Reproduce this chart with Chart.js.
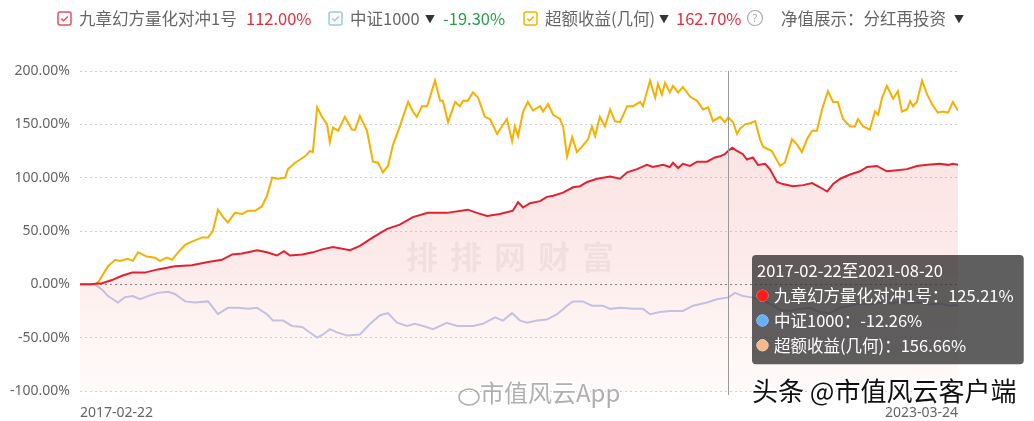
<!DOCTYPE html>
<html>
<head>
<meta charset="utf-8">
<script src="https://cdn.jsdelivr.net/npm/chart.js@4.4.1/dist/chart.umd.min.js"></script>
<style>
  html, body { margin: 0; padding: 0; background: #fff; }
  #wrap { position: relative; width: 1034px; height: 421px; }
  #chart { position: absolute; left: 0; top: 0; }
  #legend { position: absolute; left: 0; top: 0; width: 1034px; height: 36px;
    font-family: "Noto Sans CJK SC", sans-serif; font-size: 16.5px; color: #666; }
  #legend span { position: absolute; top: 7px; line-height: 22px; white-space: nowrap; }
  #legend svg { position: absolute; top: 11px; }
  .arrow { font-size: 10px; color: #333; }
</style>
</head>
<body>
<div id="wrap">
  <canvas id="chart" width="1034" height="421"></canvas>
  <div id="legend"></div>
</div>
<script>
// 名称与图例数值
const seriesNames = ["九章幻方量化对冲1号", "中证1000", "超额收益(几何)"];
const legendValues = ["112.00%", "-19.30%", "162.70%"];
const tickLabels = ["2017-02-22", "2023-03-24"];
const hoverTitle = "2017-02-22至2021-08-20";
const yTicks = [-100, -50, 0, 50, 100, 150, 200];

// 天数（自2017-02-22起），收益率 %
const fundDays = [0, 25, 56, 81, 106, 132, 164, 197, 240, 283, 324, 359, 385, 410, 448, 473, 498, 516, 531, 562, 589, 615, 640, 683, 708, 741, 777, 809, 842, 880, 928, 981, 1004, 1030, 1062, 1095, 1108, 1121, 1138, 1164, 1181, 1197, 1222, 1247, 1265, 1283, 1308, 1323, 1341, 1366, 1384, 1409, 1434, 1449, 1475, 1492, 1500, 1513, 1525, 1543, 1561, 1586, 1606, 1619, 1631, 1640, 1650, 1662, 1677, 1687, 1702, 1715, 1733, 1745, 1763, 1778, 1804, 1829, 1852, 1872, 1890, 1905, 1923, 1948, 1973, 1991, 2016, 2041, 2067, 2092, 2117, 2143, 2175, 2196, 2208, 2221];
const fundValues = [0, 0, 1, 4, 8, 11, 11, 14, 17, 18, 21, 23, 28, 29, 32, 30, 27, 31, 27, 28, 30, 33, 35, 32, 36, 44, 52, 56, 63, 67, 67, 70, 67, 64, 66, 69, 77, 72, 76, 78, 82, 83, 86, 91, 92, 96, 99, 100, 101, 99, 105, 108, 112, 110, 112, 110, 114, 109, 113, 111, 115, 115, 119, 120, 122, 125.21, 128, 125, 122, 117, 119, 112, 113, 108, 96, 94, 92, 93, 95, 91, 87, 94, 99, 103, 106, 110, 111, 106, 107, 108, 111, 112, 113, 112, 113, 112.00];

const indexDays = [0, 38, 56, 71, 96, 114, 134, 152, 172, 197, 223, 240, 266, 291, 324, 349, 374, 400, 425, 448, 473, 488, 514, 536, 562, 577, 600, 615, 632, 650, 675, 708, 734, 759, 779, 802, 827, 847, 868, 893, 928, 954, 994, 1019, 1050, 1070, 1093, 1113, 1131, 1156, 1181, 1207, 1232, 1247, 1272, 1295, 1323, 1341, 1366, 1399, 1424, 1442, 1467, 1492, 1525, 1551, 1586, 1611, 1640, 1657, 1677, 1695, 1720, 1745, 1771, 1796, 1821, 1847, 1872, 1897, 1923, 1948, 1973, 1998, 2024, 2049, 2074, 2100, 2125, 2150, 2175, 2201, 2221];
const indexValues = [0, 0, -5, -11, -17, -12, -11, -14, -11, -8, -7, -9, -16, -17, -16, -28, -22, -22, -23, -22, -28, -34, -34, -39, -40, -44, -50, -47, -42, -45, -48, -47, -37, -29, -27, -36, -39, -37, -39, -42, -36, -39, -39, -37, -31, -34, -27, -34, -36, -34, -33, -28, -20, -16, -16, -20, -20, -23, -22, -23, -23, -28, -26, -25, -25, -20, -17, -14, -12.26, -8, -11, -12, -14, -18, -24, -25, -23, -22, -26, -27, -22, -20, -18, -19, -17, -18, -16, -18, -17, -19, -18, -20, -19.30];

const excessDays = [0, 25, 38, 46, 71, 89, 101, 121, 134, 147, 169, 190, 202, 220, 233, 248, 266, 283, 309, 324, 336, 349, 362, 374, 392, 410, 425, 443, 460, 473, 486, 501, 519, 526, 544, 557, 569, 582, 589, 600, 612, 625, 632, 640, 653, 670, 688, 696, 708, 726, 741, 754, 766, 779, 792, 809, 817, 830, 842, 852, 865, 878, 885, 898, 911, 918, 931, 949, 961, 969, 981, 994, 1007, 1024, 1037, 1055, 1067, 1080, 1093, 1100, 1108, 1121, 1133, 1146, 1164, 1171, 1184, 1197, 1214, 1222, 1232, 1245, 1257, 1272, 1285, 1295, 1303, 1315, 1328, 1341, 1353, 1366, 1384, 1399, 1417, 1424, 1442, 1455, 1462, 1472, 1480, 1492, 1500, 1513, 1525, 1543, 1561, 1576, 1589, 1601, 1619, 1631, 1640, 1652, 1662, 1670, 1682, 1695, 1708, 1720, 1728, 1750, 1771, 1783, 1801, 1814, 1826, 1839, 1852, 1864, 1877, 1892, 1905, 1917, 1930, 1948, 1960, 1968, 1981, 1998, 2011, 2019, 2029, 2041, 2057, 2069, 2079, 2092, 2100, 2107, 2117, 2130, 2143, 2155, 2170, 2183, 2196, 2208, 2221];
const excessValues = [0, 0, 0, 2, 17, 23, 22, 24, 22, 30, 26, 25, 22, 25, 23, 30, 37, 40, 44, 44, 50, 70, 63, 58, 67, 66, 69, 69, 73, 83, 100, 99, 100, 108, 114, 117, 120, 125, 124, 166, 157, 150, 133, 147, 144, 157, 145, 145, 158, 144, 115, 114, 105, 111, 131, 148, 157, 171, 162, 157, 167, 167, 175, 191, 172, 172, 152, 171, 167, 172, 172, 180, 175, 157, 155, 141, 148, 155, 134, 148, 139, 162, 171, 163, 167, 162, 169, 159, 155, 148, 120, 138, 124, 130, 136, 148, 139, 157, 148, 164, 153, 152, 167, 167, 171, 167, 191, 175, 188, 178, 189, 180, 186, 180, 185, 176, 172, 164, 166, 153, 157, 152, 156.66, 152, 141, 146, 150, 151, 153, 136, 129, 125, 111, 114, 136, 131, 124, 136, 144, 144, 164, 181, 171, 171, 155, 148, 148, 155, 148, 145, 162, 159, 175, 186, 174, 181, 162, 164, 172, 167, 171, 191, 178, 169, 161, 162, 161, 171, 162.70];

const hoverDay = 1640;

function toPoints(days, values) {
    return days.map((d, i) => ({ x: d, y: values[i] }));
}

// 图例（HTML）
function checkIcon(color, left) {
    return `<svg width="15" height="15" style="left:${left}px" viewBox="0 0 15 15">
      <rect x="1" y="1" width="13" height="13" rx="2" fill="#fff" stroke="${color}" stroke-width="1.5"/>
      <path d="M4.3 7.6 L6.6 9.8 L10.8 5.4" fill="none" stroke="${color}" stroke-width="1.5"/></svg>`;
}
const legendEl = document.getElementById("legend");
legendEl.innerHTML =
    checkIcon("#e8505b", 57) +
    `<span style="left:79px">${seriesNames[0]}</span>` +
    `<span style="left:246px;color:#e0303c">${legendValues[0]}</span>` +
    checkIcon("#9fc5ee", 328) +
    `<span style="left:350px">${seriesNames[1]}</span>` +
    `<span class="arrow" style="left:425px;top:8px">▼</span>` +
    `<span style="left:443px;color:#2a9d4a">${legendValues[1]}</span>` +
    checkIcon("#f5b400", 523) +
    `<span style="left:545px">${seriesNames[2]}</span>` +
    `<span class="arrow" style="left:659px;top:8px">▼</span>` +
    `<span style="left:676px;color:#e0303c">${legendValues[2]}</span>` +
    `<svg width="18" height="18" style="left:746px;top:9px" viewBox="0 0 18 18"><circle cx="9" cy="9" r="7.5" fill="none" stroke="#aaa" stroke-width="1.2"/><text x="9" y="13" text-anchor="middle" font-size="11" fill="#aaa" font-family="Noto Sans">?</text></svg>` +
    `<span style="left:781px">净值展示：分红再投资</span>` +
    `<span class="arrow" style="left:954px;top:8px">▼</span>`;

// 悬停竖线 + 水印
const overlayPlugin = {
    id: "overlay",
    beforeDatasetsDraw(chart) {
        const { ctx } = chart;
        ctx.save();
        ctx.fillStyle = "rgba(0,0,0,0.055)";
        ctx.font = "bold 32px 'Noto Sans CJK SC'";
        ctx.textBaseline = "middle";
        const wm = "排排网财富";
        for (let i = 0; i < wm.length; i++) {
            ctx.fillText(wm[i], 406 + i * 44, 257);
        }
        ctx.restore();
    },
    afterDatasetsDraw(chart) {
        const { ctx, chartArea, scales } = chart;
        const x = scales.x.getPixelForValue(hoverDay);
        ctx.save();
        ctx.strokeStyle = "#999";
        ctx.lineWidth = 1;
        ctx.beginPath();
        ctx.moveTo(Math.round(x) + 0.5, chartArea.top);
        ctx.lineTo(Math.round(x) + 0.5, chartArea.bottom + 4);
        ctx.stroke();

        ctx.textBaseline = "middle";
        ctx.lineJoin = "round";
        // 市值风云App
        ctx.beginPath();
        ctx.ellipse(469, 397, 10, 8, 0, 0, Math.PI * 2);
        ctx.strokeStyle = "rgba(140,140,140,0.7)";
        ctx.lineWidth = 1.5;
        ctx.stroke();
        ctx.font = "24px 'Noto Sans CJK SC'";
        ctx.lineWidth = 3;
        ctx.strokeStyle = "rgba(255,255,255,0.9)";
        ctx.strokeText("市值风云App", 480, 393);
        ctx.fillStyle = "rgba(150,150,150,0.75)";
        ctx.fillText("市值风云App", 480, 393);
        // 头条
        ctx.font = "26px 'Noto Sans CJK SC'";
        ctx.strokeStyle = "#fff";
        ctx.lineWidth = 4;
        ctx.strokeText("头条 @市值风云客户端", 752, 391);
        ctx.fillStyle = "#111";
        ctx.fillText("头条 @市值风云客户端", 752, 391);
        ctx.restore();
    }
};

Chart.Tooltip.positioners.fixedBox = function () {
    return { x: 756, y: 255 };
};

const tipColors = ["#ff1a1a", "#66b0ff", "#f7b98c"];

const ctx = document.getElementById("chart");
const chart = new Chart(ctx, {
    type: "line",
    data: {
        datasets: [
            {
                label: seriesNames[0],
                data: toPoints(fundDays, fundValues),
                borderColor: "#e6202f",
                borderWidth: 2,
                fill: "start",
                backgroundColor: (c) => {
                    const area = c.chart.chartArea;
                    if (!area) return "rgba(240,120,120,0.15)";
                    const g = c.chart.ctx.createLinearGradient(0, area.top, 0, area.bottom);
                    g.addColorStop(0, "rgba(235,110,110,0.22)");
                    g.addColorStop(0.6, "rgba(240,130,130,0.17)");
                    g.addColorStop(1, "rgba(250,200,190,0.08)");
                    return g;
                }
            },
            {
                label: seriesNames[1],
                data: toPoints(indexDays, indexValues),
                borderColor: "#bcc7ea",
                borderWidth: 2,
                fill: false
            },
            {
                label: seriesNames[2],
                data: toPoints(excessDays, excessValues),
                borderColor: "#f5b000",
                borderWidth: 2,
                fill: false
            }
        ]
    },
    options: {
        responsive: false,
        animation: false,
        events: [],
        elements: {
            point: { radius: 0, hoverRadius: 0 },
            line: { tension: 0 }
        },
        layout: { padding: { top: 71, right: 76, left: 0, bottom: 0 } },
        scales: {
            x: {
                type: "linear",
                min: 0,
                max: 2221,
                grid: { display: false },
                border: { display: false },
                afterBuildTicks: (scale) => {
                    scale.ticks = [{ value: 0 }, { value: 2221 }];
                },
                afterFit: (scale) => { scale.height = 30; },
                ticks: {
                    align: "inner",
                    maxRotation: 0,
                    autoSkip: false,
                    color: "#666",
                    font: { family: "Noto Sans", size: 14 },
                    padding: 6,
                    callback: (v, i) => tickLabels[i]
                }
            },
            y: {
                min: -100,
                max: 200,
                afterBuildTicks: (scale) => {
                    scale.ticks = yTicks.map(v => ({ value: v }));
                },
                afterFit: (scale) => { scale.width = 80; },
                grid: {
                    drawTicks: false,
                    color: (c) => c.tick && c.tick.value === 0 ? "#777" : "#d0d0d0",
                    lineWidth: 1
                },
                border: { display: false, dash: [2, 3] },
                ticks: {
                    color: "#666",
                    padding: 10,
                    font: { family: "Noto Sans", size: 14 },
                    callback: (v) => v.toFixed(2) + "%"
                }
            }
        },
        plugins: {
            legend: { display: false },
            tooltip: {
                enabled: true,
                position: "fixedBox",
                xAlign: "left",
                yAlign: "top",
                caretSize: 0,
                caretPadding: 0,
                cornerRadius: 4,
                backgroundColor: "rgba(50,50,50,0.78)",
                titleColor: "#fff",
                bodyColor: "#fff",
                titleFont: { family: "Noto Sans CJK SC", size: 16.5, weight: "normal" },
                bodyFont: { family: "Noto Sans CJK SC", size: 16.5 },
                titleMarginBottom: 5,
                bodySpacing: 5,
                padding: { left: 5, right: 10, top: 6, bottom: 9 },
                displayColors: true,
                usePointStyle: true,
                boxWidth: 11,
                boxHeight: 11,
                boxPadding: 4,
                callbacks: {
                    title: () => hoverTitle,
                    label: (item) => item.dataset.label + "：" + item.parsed.y.toFixed(2) + "%",
                    labelColor: (item) => ({
                        borderColor: tipColors[item.datasetIndex],
                        backgroundColor: tipColors[item.datasetIndex]
                    }),
                    labelPointStyle: () => ({ pointStyle: "circle", rotation: 0 })
                }
            }
        }
    },
    plugins: [overlayPlugin]
});

const active = [
    { datasetIndex: 0, index: fundDays.indexOf(hoverDay) },
    { datasetIndex: 1, index: indexDays.indexOf(hoverDay) },
    { datasetIndex: 2, index: excessDays.indexOf(hoverDay) }
];
chart.tooltip.setActiveElements(active, { x: 756, y: 255 });
chart.update();
</script>
</body>
</html>
